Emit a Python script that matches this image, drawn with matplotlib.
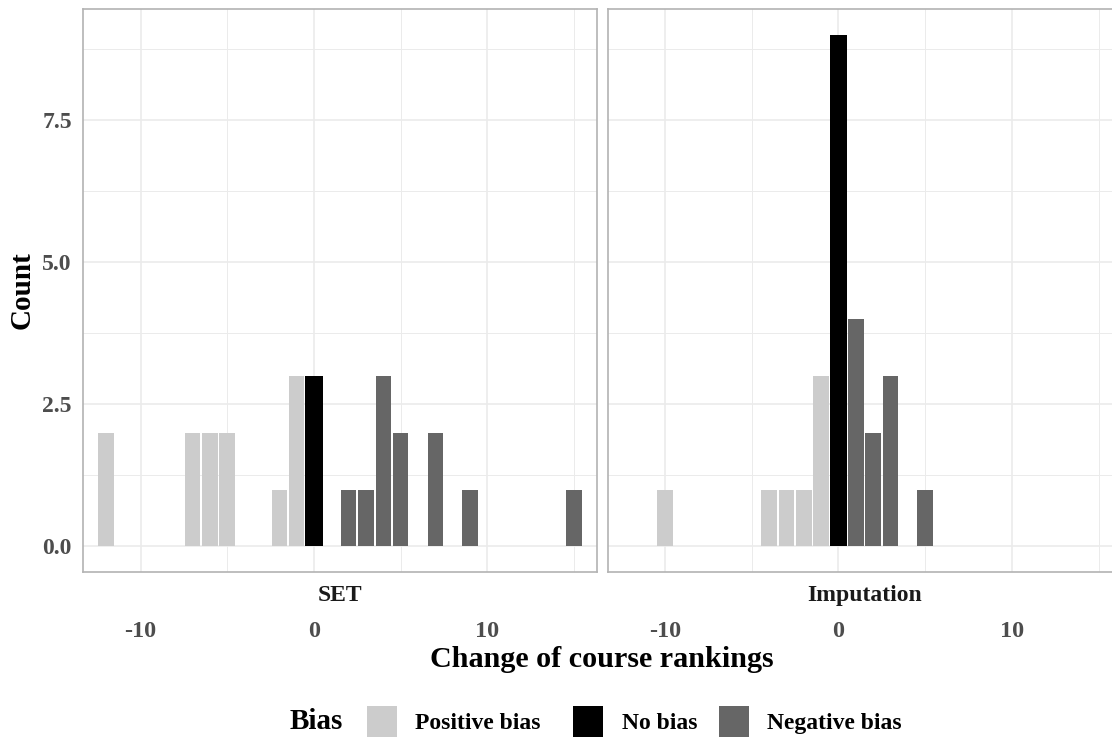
import numpy as np
import matplotlib
matplotlib.use("Agg")
import matplotlib.pyplot as plt
from matplotlib.patches import Rectangle

# data
set_change = [-12, -7, -6, -5, -2, -1, 0, 2, 3, 4, 5, 7, 9, 15]
set_count = [2, 2, 2, 2, 1, 3, 3, 1, 1, 3, 2, 2, 1, 1]
imp_change = [-10, -4, -3, -2, -1, 0, 1, 2, 3, 5]
imp_count = [1, 1, 1, 1, 3, 9, 4, 2, 3, 1]
panel_names = ["SET", "Imputation"]
bias_labels = ["Positive bias", "No bias", "Negative bias"]
bias_colors = ["#CCCCCC", "#000000", "#666666"]
x_ticks = [-10, 0, 10]
y_ticks = [0, 2.5, 5, 7.5]
y_ticklabels = ["0.0", "2.5", "5.0", "7.5"]

W, H = 1112, 738
GRID = "#EBEBEB"
BORDER = "#B3B3B3"
TICK_COL = "#4D4D4D"

plt.rcParams["font.family"] = ["Liberation Serif", "DejaVu Serif"]
plt.rcParams["font.weight"] = "bold"

fig = plt.figure(figsize=(W / 100, H / 100), dpi=100)
fig.patch.set_facecolor("white")


def fx(px):
    return px / W


def fy(py):
    return 1 - py / H


def bias_index(v):
    # negative change -> positive bias, zero -> none, positive -> negative bias
    return 0 if v < 0 else (1 if v == 0 else 2)


def draw_panel(ax, xs, counts, name, show_y):
    cols = [bias_colors[bias_index(v)] for v in xs]
    widths = [1.0 if bias_index(v) == 1 else 0.9 for v in xs]
    ax.bar(xs, counts, width=widths, color=cols, linewidth=0, zorder=3)

    ax.set_xlim(-13.32, 16.32)
    ax.set_ylim(-0.45, 9.45)
    ax.set_xticks(x_ticks)
    ax.set_xticks([-5, 5, 15], minor=True)
    ax.set_yticks(y_ticks)
    ax.set_yticks([1.25, 3.75, 6.25, 8.75], minor=True)
    ax.grid(True, which="major", color=GRID, linewidth=1.2, zorder=0)
    ax.grid(True, which="minor", color=GRID, linewidth=0.7, zorder=0)
    ax.set_axisbelow(True)

    ax.tick_params(which="both", length=0)
    ax.tick_params(axis="x", pad=35, labelsize=17.5, labelcolor=TICK_COL)
    ax.set_xticklabels([str(t) for t in x_ticks], fontweight="bold")
    if show_y:
        ax.tick_params(axis="y", pad=8, labelsize=17, labelcolor=TICK_COL)
        ax.set_yticklabels(y_ticklabels, fontweight="bold")
    else:
        ax.set_yticklabels([])

    for sp in ax.spines.values():
        sp.set_color(BORDER)
        sp.set_linewidth(1.2)

    # facet strip below the panel
    ax.text(0.5, -0.0515, name, transform=ax.transAxes, ha="center",
            va="baseline", fontsize=17, fontweight="bold", color="#1A1A1A")


pw = (597 - 83) / W
ph = (572 - 9) / H
ax1 = fig.add_axes([fx(83), fy(572), pw, ph])
ax2 = fig.add_axes([fx(607.5), fy(572), pw, ph])
draw_panel(ax1, set_change, set_count, panel_names[0], True)
draw_panel(ax2, imp_change, imp_count, panel_names[1], False)

fig.text(fx(602), fy(667), "Change of course rankings", ha="center",
         va="baseline", fontsize=21.7, fontweight="bold")
fig.text(fx(22), fy(290), "Count", rotation=90, ha="center", va="center",
         fontsize=21, fontweight="bold")

# legend along the bottom
fig.text(fx(290), fy(729), "Bias", ha="left", va="baseline",
         fontsize=21, fontweight="bold")
key_x = [367, 573, 719]
label_x = [415, 622, 767]
for kx, lx, lab, col in zip(key_x, label_x, bias_labels, bias_colors):
    fig.add_artist(Rectangle((fx(kx), fy(737)), 30 / W, 31 / H,
                             transform=fig.transFigure, facecolor=col,
                             edgecolor="none"))
    fig.text(fx(lx), fy(729), lab, ha="left", va="baseline",
             fontsize=17, fontweight="bold")

fig.savefig("out.png", dpi=100, facecolor="white")
